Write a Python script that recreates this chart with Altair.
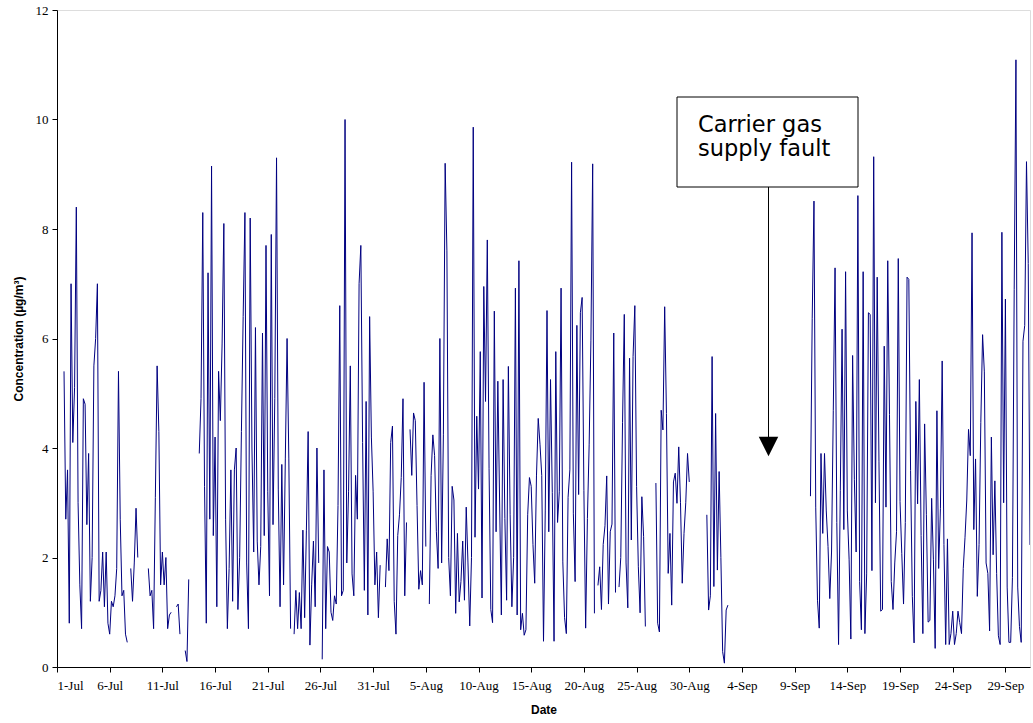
import json
import altair as alt
import pandas as pd

# Hourly-ish concentration readings (every 4 hours from 1-Jul 00:00), None = no data
STEP_HOURS = 4

conc_jul = [
    None, None, None, None, 5.4, 2.7,      # 1-Jul
    3.6, 0.8, 7.0, 4.1, 5.1, 8.4,
    3.0, 1.5, 0.7, 4.9, 4.8, 2.6,
    3.9, 1.2, 2.0, 5.5, 6.0, 7.0,
    1.2, 1.4, 2.1, 1.1, 2.1, 0.8,
    0.6, 1.2, 1.1, 1.3, 1.8, 5.4,          # 6-Jul
    2.7, 1.3, 1.4, 0.6, 0.45, None,
    1.8, 1.2, 1.9, 2.9, 2.0, None,
    None, None, None, None, 1.8, 1.3,
    1.4, 0.7, 3.1, 5.5, 4.3, 1.5,
    2.1, 1.5, 2.0, 0.7, 0.95, 1.0,         # 11-Jul
    None, None, 1.1, 1.15, 0.6, None,
    None, 0.3, 0.1, 1.6, None, None,
    None, None, None, 3.9, 4.9, 8.3,
    3.3, 0.8, 7.2, 2.7, 9.15, 2.4,
    4.2, 1.1, 5.4, 4.5, 5.9, 8.1,          # 16-Jul
    2.7, 0.7, 1.8, 3.6, 1.2, 3.6,
    4.0, 1.05, 2.0, 4.3, 6.4, 8.3,
    1.9, 0.7, 8.2, 4.0, 2.1, 6.2,
    2.3, 1.5, 2.2, 6.1, 2.4, 7.7,
    3.2, 1.3, 7.9, 2.6, 4.9, 9.3,          # 21-Jul
    3.25, 1.1, 3.7, 1.5, 3.8, 6.0,
    3.8, 0.7, None, 0.6, 1.4, 0.7,
    1.36, 0.7, 2.5, 0.9, 2.5, 4.3,
    0.4, 1.5, 2.3, 1.1, 4.0, 1.9,
    None, 0.14, 3.6, 0.7, 2.2, 2.1,        # 26-Jul
    1.0, 0.85, 1.3, 1.15, 2.95, 6.6,
    1.3, 1.4, 10.0, 1.9, 3.2, 5.5,
    1.7, 1.3, 3.5, 2.7, 7.0, 7.7,
    4.1, 1.4, 4.85, 0.95, 6.4, 4.2,
    3.2, 1.5, 2.1, 0.9, 1.86, None,        # 31-Jul
]

conc_aug = [
    None, 1.46, 2.34, 1.76, 4.1, 4.4,      # 1-Aug
    1.2, 0.6, 2.4, 2.78, 3.46, 4.9,
    1.3, 2.64, None, 4.34, 3.5, 4.64,
    4.5, 2.95, 1.42, 1.76, 1.5, 5.2,
    2.2, None, 1.15, 3.5, 4.24, 3.86,      # 5-Aug
    2.47, 1.8, 6.0, 1.9, 4.24, 9.2,
    7.6, 2.0, 1.3, 3.3, 3.05, 0.98,
    2.44, 1.19, 1.56, 2.3, 1.22, 2.92,
    1.9, 0.75, 2.0, 9.86, 2.37, 4.58,
    3.25, 5.76, 1.26, 6.95, 4.85, 7.8,     # 10-Aug
    3.63, 1.05, 0.81, 6.5, 2.47, 5.22,
    3.05, 0.95, 5.25, 2.71, 1.22, 5.49,
    2.78, 1.1, 2.0, 6.92, 0.95, 7.42,
    0.68, 0.98, 0.58, 0.68, 2.78, 3.46,
    3.3, 2.24, 1.53, 3.49, 4.54, 4.07,     # 15-Aug
    3.5, 0.47, 2.85, 6.51, 2.47, 5.25,
    3.19, 0.47, 5.76, 2.64, 3.2, 6.92,
    1.92, 0.9, 0.61, 3.1, 3.6, 9.22,
    2.81, 1.56, 6.24, 3.15, 6.47, 6.75,
    3.22, 0.71, 2.71, 4.07, 5.97, 9.19,    # 20-Aug
    0.98, None, 1.49, 1.83, 1.05, 2.24,
    2.58, 3.49, 1.15, 2.47, 2.61, 6.1,
    1.36, None, 1.46, 2.0, 4.47, 6.44,
    1.9, 1.08, 5.64, 2.32, 5.67, 6.6,
    3.3, 1.83, 0.99, 3.11, 2.38, 0.74,     # 25-Aug
    None, None, None, None, None, 3.36,
    0.8, 0.64, 4.69, 4.33, 6.58, 4.63,
    1.71, 2.44, 1.13, 3.38, 3.54, 2.99,
    4.02, 3.0, 1.53, 2.44, 3.0, 3.9,
    3.38, None, None, None, None, None,    # 30-Aug
    None, None, None, None, 2.78, 1.04,
]

conc_sep = [
    1.3, 5.67, 1.47, 4.63, 1.77, 3.57,     # 1-Sep
    2.0, 0.28, 0.07, 1.04, 1.13, None,
    None, None, None, None, None, None,
    None, None, None, None, None, None,
    None, None, None, None, None, None,    # 5-Sep
    None, None, None, None, None, None,
    None, None, None, None, None, None,
    None, None, None, None, None, None,
    None, None, None, None, None, None,
    None, None, None, 3.12, 6.37, 8.51,    # 10-Sep
    2.92, 1.22, 0.71, 3.9, 2.44, 3.9,
    2.85, 2.2, 1.25, 2.1, 4.68, 7.29,
    2.64, 0.41, 3.22, 6.17, 2.51, 7.22,
    2.85, 1.97, 0.51, 5.69, 3.42, 2.1,
    8.61, 1.56, 0.68, 7.22, 0.61, 1.7,     # 15-Sep
    6.47, 6.44, 1.76, 9.32, 3.0, 7.12,
    3.76, 1.02, 1.05, 5.86, 2.92, 7.42,
    4.61, 1.56, 1.05, 1.9, 2.47, 7.46,
    3.02, 2.07, 1.15, 2.64, 7.12, 7.08,
    3.59, 1.29, 0.44, 4.85, 2.98, 5.25,    # 20-Sep
    2.4, 0.61, 4.44, 2.78, 0.82, 0.85,
    3.08, 1.97, 0.34, 4.68, 1.8, 2.9,
    5.59, 2.24, 0.41, 2.34, 0.41, 0.61,
    1.02, 0.41, 0.61, 1.02, 0.81, 0.61,
    1.8, 2.37, 3.05, 4.34, 3.86, 7.93,     # 25-Sep
    2.51, 3.8, 1.29, 2.24, 4.47, 6.07,
    5.39, 1.9, 1.71, 0.66, 4.2, 2.05,
    3.4, 1.71, 0.57, 0.41, 7.94, 3.0,
    6.72, 1.46, 0.45, 0.45, 1.63, 6.89,
    11.09, 1.46, 0.74, 0.45, 5.95, 6.24,   # 30-Sep
    9.23, 7.37, 2.23,                      # 1-Oct
]

tick_labels = ["1-Jul", "6-Jul", "11-Jul", "16-Jul", "21-Jul", "26-Jul", "31-Jul",
               "5-Aug", "10-Aug", "15-Aug", "20-Aug", "25-Aug", "30-Aug",
               "4-Sep", "9-Sep", "14-Sep", "19-Sep", "24-Sep", "29-Sep"]
y_ticks = [0, 2, 4, 6, 8, 10, 12]
annotation_lines = ["Carrier gas", "supply fault"]

values = conc_jul + conc_aug + conc_sep
rows = []
seg = 0
gap = True
for i, v in enumerate(values):
    if v is None:
        gap = True
        continue
    if gap:
        seg += 1
        gap = False
    rows.append({"day": i * STEP_HOURS / 24.0, "conc": v, "seg": seg})
df = pd.DataFrame(rows)
xmax = (len(values) - 1) * STEP_HOURS / 24.0
tick_days = [5 * k for k in range(len(tick_labels))]
label_expr = json.dumps(tick_labels) + "[round(datum.value / 5)]"

serif = "Liberation Serif"
sans = "Liberation Sans"

line = alt.Chart(df).mark_line(color="#000080", strokeWidth=1, clip=True).encode(
    x=alt.X("day:Q",
            scale=alt.Scale(domain=[0, xmax], nice=False, zero=False),
            axis=alt.Axis(values=tick_days, labelExpr=label_expr, title="Date",
                          tickSize=5, labelPadding=7, titlePadding=12,
                          labelFont=serif, labelFontSize=13, labelColor="black",
                          titleFont=sans, titleFontSize=12, titleFontWeight="bold",
                          titleColor="black", domainColor="black", tickColor="black",
                          grid=False, labelOverlap=False)),
    y=alt.Y("conc:Q",
            scale=alt.Scale(domain=[0, 12], nice=False),
            axis=alt.Axis(values=y_ticks, format="d", title="Concentration (µg/m³)",
                          tickSize=5, labelPadding=4, titlePadding=10,
                          labelFont=serif, labelFontSize=13, labelColor="black",
                          titleFont=sans, titleFontSize=12, titleFontWeight="bold",
                          titleColor="black", domainColor="black", tickColor="black",
                          grid=False)),
    detail="seg:N",
)

ann = alt.Chart(pd.DataFrame({"label": annotation_lines}))

box = alt.Chart(pd.DataFrame({"k": [0]})).mark_rect(
    fill="white", stroke="black", strokeWidth=1
).encode(x=alt.value(620), x2=alt.value(801), y=alt.value(87), y2=alt.value(177))

text1 = alt.Chart(pd.DataFrame({"label": [annotation_lines[0]]})).mark_text(
    align="left", baseline="alphabetic", font="DejaVu Sans", fontSize=22.5, color="black"
).encode(x=alt.value(641), y=alt.value(121.5), text="label:N")

text2 = alt.Chart(pd.DataFrame({"label": [annotation_lines[1]]})).mark_text(
    align="left", baseline="alphabetic", font="DejaVu Sans", fontSize=22.5, color="black"
).encode(x=alt.value(641), y=alt.value(146), text="label:N")

arrow = alt.Chart(pd.DataFrame({"k": [0]})).mark_rule(color="black", strokeWidth=1).encode(
    x=alt.value(711.5), y=alt.value(177), y2=alt.value(428)
)

head = alt.Chart(pd.DataFrame({"k": [0]})).mark_point(
    shape="M -1 -1 L 1 -1 L 0 1 Z", filled=True, color="black", opacity=1, size=380
).encode(x=alt.value(711.5), y=alt.value(436.5))

chart = alt.layer(line, box, text1, text2, arrow, head).properties(
    width=973, height=657,
    padding={"left": 57, "top": 10, "right": 3, "bottom": 56},
    autosize=alt.AutoSizeParams(type="none"),
).configure_view(stroke="#808080", strokeWidth=1).configure(background="white")

chart.save("out.html", embed_options={"renderer": "svg", "actions": False})
